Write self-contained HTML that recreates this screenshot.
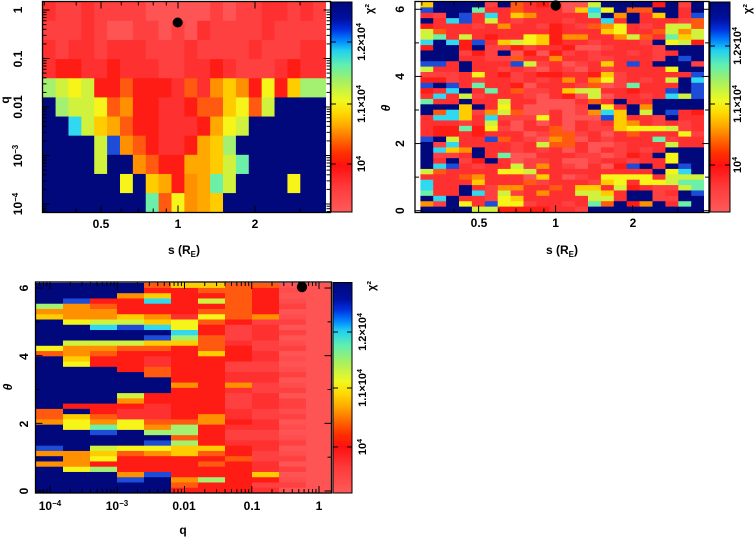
<!DOCTYPE html>
<html><head><meta charset="utf-8">
<style>
html,body{margin:0;padding:0;background:#fff;}
svg{display:block;}
text{font-family:"Liberation Sans",sans-serif;font-weight:bold;font-size:12px;fill:#000;}
.cbl{font-size:11px;}
</style></head><body>
<svg id="s" width="754" height="538" viewBox="0 0 754 538" xmlns="http://www.w3.org/2000/svg">
<defs>
<linearGradient id="cb" x1="0" y1="0" x2="0" y2="1">
<stop offset="0" stop-color="#00087c"/>
<stop offset="0.08" stop-color="#0010a0"/>
<stop offset="0.13" stop-color="#0030e0"/>
<stop offset="0.18" stop-color="#0080ff"/>
<stop offset="0.23" stop-color="#20d0f0"/>
<stop offset="0.30" stop-color="#60f0b0"/>
<stop offset="0.38" stop-color="#a8f060"/>
<stop offset="0.47" stop-color="#f0f820"/>
<stop offset="0.53" stop-color="#ffd800"/>
<stop offset="0.59" stop-color="#ffa800"/>
<stop offset="0.65" stop-color="#ff7000"/>
<stop offset="0.72" stop-color="#ff3000"/>
<stop offset="0.78" stop-color="#ff1010"/>
<stop offset="0.88" stop-color="#ff3a3a"/>
<stop offset="1" stop-color="#ff5a5a"/>
</linearGradient>
<clipPath id="cTL"><rect x="42.7" y="1.7" width="283.3" height="210.6"/></clipPath>
<clipPath id="cTR"><rect x="420.3" y="2" width="283.7" height="210.2"/></clipPath>
<clipPath id="cB"><rect x="36" y="282.7" width="295" height="210.3"/></clipPath>
</defs>
<g id="gTL" clip-path="url(#cTL)"></g>
<g id="gTR" clip-path="url(#cTR)"></g>
<g id="gB" clip-path="url(#cB)"></g>

<!-- colorbars -->
<rect x="331" y="2" width="21" height="210" fill="url(#cb)" stroke="#000" stroke-width="1"/>
<rect x="710" y="2" width="20" height="210" fill="url(#cb)" stroke="#000" stroke-width="1"/>
<rect x="333" y="282.5" width="19" height="210.5" fill="url(#cb)" stroke="#000" stroke-width="1"/>

<!-- frames -->
<rect x="42.5" y="1.5" width="288" height="211" fill="none" stroke="#000" stroke-width="1.3"/>
<rect x="415" y="1.5" width="294" height="211" fill="none" stroke="#000" stroke-width="1.3"/>
<rect x="35.5" y="282" width="296" height="211" fill="none" stroke="#000" stroke-width="1.3"/>

<g id="ticks"></g>

<!-- best-fit dots -->
<circle cx="177.7" cy="22.5" r="5" fill="#000"/>
<circle cx="555.7" cy="5.5" r="5.2" fill="#000"/>
<circle cx="302" cy="287" r="5.2" fill="#000"/>

<!-- Top-left labels -->
<text x="101" y="228" text-anchor="middle">0.5</text>
<text x="178" y="228" text-anchor="middle">1</text>
<text x="255" y="228" text-anchor="middle">2</text>
<text x="184" y="254" text-anchor="middle">s (R<tspan font-size="8" dy="3">E</tspan><tspan dy="-3">)</tspan></text>
<text transform="translate(22,10) rotate(-90)" text-anchor="middle">1</text>
<text transform="translate(22,59) rotate(-90)" text-anchor="middle">0.1</text>
<text transform="translate(22,107) rotate(-90)" text-anchor="middle">0.01</text>
<text transform="translate(22,156) rotate(-90)" text-anchor="middle">10<tspan dy="-4" font-size="8">−3</tspan></text>
<text transform="translate(22,204) rotate(-90)" text-anchor="middle">10<tspan dy="-4" font-size="8">−4</tspan></text>
<text transform="translate(9,100) rotate(-90)" text-anchor="middle">q</text>
<text class="cbl" transform="translate(373,9) rotate(-90)" text-anchor="middle">χ²</text>
<text class="cbl" transform="translate(365,42) rotate(-90)" text-anchor="middle">1.2×10<tspan dy="-4" font-size="7">4</tspan></text>
<text class="cbl" transform="translate(365,104) rotate(-90)" text-anchor="middle">1.1×10<tspan dy="-4" font-size="7">4</tspan></text>
<text class="cbl" transform="translate(365,164) rotate(-90)" text-anchor="middle">10<tspan dy="-4" font-size="7">4</tspan></text>

<!-- Top-right labels -->
<text x="479" y="227" text-anchor="middle">0.5</text>
<text x="555.6" y="227" text-anchor="middle">1</text>
<text x="633" y="227" text-anchor="middle">2</text>
<text x="562" y="254" text-anchor="middle">s (R<tspan font-size="8" dy="3">E</tspan><tspan dy="-3">)</tspan></text>
<text transform="translate(404,9.3) rotate(-90)" text-anchor="middle">6</text>
<text transform="translate(404,76.4) rotate(-90)" text-anchor="middle">4</text>
<text transform="translate(404,143.5) rotate(-90)" text-anchor="middle">2</text>
<text transform="translate(404,210.7) rotate(-90)" text-anchor="middle">0</text>
<text transform="translate(390,108) rotate(-90)" text-anchor="middle" font-style="italic">θ</text>
<text class="cbl" transform="translate(751,9) rotate(-90)" text-anchor="middle">χ²</text>
<text class="cbl" transform="translate(741,46) rotate(-90)" text-anchor="middle">1.2×10<tspan dy="-4" font-size="7">4</tspan></text>
<text class="cbl" transform="translate(741,104) rotate(-90)" text-anchor="middle">1.1×10<tspan dy="-4" font-size="7">4</tspan></text>
<text class="cbl" transform="translate(741,165) rotate(-90)" text-anchor="middle">10<tspan dy="-4" font-size="7">4</tspan></text>

<!-- Bottom labels -->
<text x="50" y="510" text-anchor="middle">10<tspan dy="-4" font-size="8">−4</tspan></text>
<text x="117" y="510" text-anchor="middle">10<tspan dy="-4" font-size="8">−3</tspan></text>
<text x="184" y="510" text-anchor="middle">0.01</text>
<text x="252" y="510" text-anchor="middle">0.1</text>
<text x="319" y="510" text-anchor="middle">1</text>
<text x="183" y="534" text-anchor="middle">q</text>
<text transform="translate(28,288) rotate(-90)" text-anchor="middle">6</text>
<text transform="translate(28,356.5) rotate(-90)" text-anchor="middle">4</text>
<text transform="translate(28,424) rotate(-90)" text-anchor="middle">2</text>
<text transform="translate(28,491) rotate(-90)" text-anchor="middle">0</text>
<text transform="translate(12,387) rotate(-90)" text-anchor="middle" font-style="italic">θ</text>
<text class="cbl" transform="translate(375,286) rotate(-90)" text-anchor="middle">χ²</text>
<text class="cbl" transform="translate(366,332) rotate(-90)" text-anchor="middle">1.2×10<tspan dy="-4" font-size="7">4</tspan></text>
<text class="cbl" transform="translate(366,388) rotate(-90)" text-anchor="middle">1.1×10<tspan dy="-4" font-size="7">4</tspan></text>
<text class="cbl" transform="translate(366,447) rotate(-90)" text-anchor="middle">10<tspan dy="-4" font-size="7">4</tspan></text>
</svg>
<script>
var NS='http://www.w3.org/2000/svg';
function el(tag,attrs,parent){var e=document.createElementNS(NS,tag);for(var k in attrs)e.setAttribute(k,attrs[k]);parent.appendChild(e);return e;}
var C={n:'#00087c',b:'#1c4cd8',c:'#30d8f0',g:'#6cf0a8',k:'#a4f070',l:'#d0f23c',y:'#f6f418',Y:'#ffcc00',a:'#ffa800',o:'#ff9000',O:'#ff5a10',r:'#ff1c14',R:'#ff3030',q:'#ff4040',p:'#ff5454',P:'#ff4c4c'};
function H(i,j){return ((i*7919+j*104729+i*j*31)%13+13)%13;}
function grid(id,data,x0,y0,cw,rh,mod){
 var g=document.getElementById(id);
 for(var i=0;i<data.length;i++){var row=data[i];
  for(var j=0;j<row.length;j++){var ch=row.charAt(j);if(mod)ch=mod(i,j,ch);
   el('rect',{x:(x0+j*cw).toFixed(2),y:(y0+i*rh).toFixed(2),width:(cw+0.4).toFixed(2),height:(rh+0.4).toFixed(2),fill:C[ch]||'#ff3030'},g);}}
}
var TL=[
"RqqRqqqqpppppqpqqRRqRq",
"qqqRqppqqpqpRqqqqRqqqq",
"RqRRqRRRqqqRqqqqRqqqRR",
"RrrRRrRRRqqRRrRqqqRrRR",
"klylrrOrrrRORoYoryrYkk",
"nkllyOorrRRrOOYyOlnnnn",
"nnclYaOrrRRRraylnnnnnn",
"nnnnlboOrRRraYknnnnnnn",
"nnnnlnnoOrraaYlgnnnnnn",
"nnnnnnynYaroaglnnnnynn",
"nnnnnnnngOyoaYnnnnnnnn"];
var TR=[
"YnnnnqnORrqpplnnnnrnqn",
"bnnngRRORRRpYcynOOnnRn",
"RRnbRcRYoRRRRgnonRYnRb",
"nRcbRlRRRRRRRRcRnRRRRO",
"rRRRRRoRRRrRROoyRRRllO",
"lORRRRRRRRrRRRYyRROlol",
"lgRlRrRRyYrooRRolORgYl",
"cncrbRYlyYrRRRRRRRnylr",
"rnnrnRRrRRRrRRRRRRRnnn",
"nnnRrRnRrRrRRRRRRRRRnn",
"nnnRRRRORRoRRRRRRRRnbn",
"bbRnRRRblRRRRRYRbRnnnR",
"lRRnRRRRRRRRRRRRRRRynn",
"RRRRyRrRRrrRRrYRRRRRRb",
"rrRRRRRRRRRoRoyRRRRlnc",
"bnbRgRRrRRRRRORRgRRRnb",
"rRcnRgRORRRYllRRrRRbnb",
"RcRlRRRRRRRrRlRRRRRclb",
"gRRnRRlRRpppRORnRRnnnn",
"nnnYnRyRRppRRnyRnonnnn",
"nOcYRolORRRpRocYnlnbRr",
"RccYRcRRRyRpRRbYRRRnRR",
"RRRRRlRRRRRpRRRYoRRRRR",
"RrrgryRRRROpRRRYyyylRR",
"RrrRrRRRRROORRRRORRRyR",
"bnlRRbORRRoORRRRRRgRRR",
"nRcRRRRRRlOORRRRRRRlRR",
"ncYonRRRRRRRRRRRRRRnnn",
"nRRRnRgRRRRRRRRRrRnynn",
"nRnRrnRRRRRRRRRRRRRynn",
"ncbRRRRlRoRRRRRrbnRnbn",
"lORRRRyylRRRRRRRRRnycn",
"RRROoRRRRYRRRRyyyyRlll",
"cRRRYRRRORRRRRYyRyylgg",
"cRRnRRooRRORYYRlrRRRlg",
"gRRncRlRRoRRllYRnnRRnb",
"ncnRRRyYRRRRRllRnnRRnn",
"oRnyRbyyRRRRRgOnronRgn",
"nnnnllrrrrRRRnnnnnnnnn"];
var B=[
"nnnnOYYOOpp",
"nnnnrrOOrpp",
"nnnoYrrOrpp",
"nbrrcrlOrRp",
"koOrrrrOrRR",
"ooorrrOOrRR",
"YooYoRyOoRR",
"nyllYyOrRRR",
"nncbcyrRRRR",
"nnnnncrRRRR",
"nnnnbkORRRR",
"nlllYYORRRR",
"yooOOrOrRRR",
"OoOrrrYrRRR",
"nYrrRrrrRRR",
"nyrrRrrRRRR",
"nnnrOrrRRRR",
"nnnnOrrRRRR",
"nnnnnrrRRpR",
"nnnnnoroRpp",
"nnnnnrrRRpp",
"nnnlrrrRRRp",
"nnnorrrRRRR",
"nrrrRrrRRqR",
"OnrRRrrRRRR",
"OYORRroRRRR",
"oyoyOOorRRR",
"nygyokrRRRR",
"nnbnkkrRRRR",
"nnnnnOrRRRR",
"nnnnbkrRRRR",
"bnlyyYYrRRR",
"ooYOoYOrRRR",
"noyrrrrORRR",
"oorrrrOrRRR",
"nykrrrrrRRR",
"nnnobrrrYRR",
"nnnbnokrrRR",
"nnnnnOrrRRR",
"nnnnnrrrRRR"];
grid('gTL',TL,42.7,1.7,12.88,19.14);
grid('gTR',TR,420.3,2,12.9,210/39,function(i,j,ch){
 if(ch==='R'){
  var h=H(i,j);
  if(i>=8&&i<=32&&j>=7&&j<=14){ if(h<4)return 'p'; if(h<8)return 'q'; return 'R'; }
  if(h<3)return 'q';
 }
 return ch;});
grid('gB',B,36,282.7,27,210.3/40,function(i,j,ch){
 var h=H(i,j);
 if(j>=9&&(ch==='R'||ch==='p')){ if(h<4)return 'q'; if(h<8)return 'P'; return 'p'; }
 if(j===8&&ch==='R'){ return h<6?'q':'R'; }
 if(j===7&&ch==='R'){ return h<5?'q':'R'; }
 return ch;});

var T=document.getElementById('ticks');
function tk(x1,y1,x2,y2){el('line',{x1:x1.toFixed(2),y1:y1.toFixed(2),x2:x2.toFixed(2),y2:y2.toFixed(2),stroke:'#000','stroke-width':1},T);}
function L(v){return Math.log(v)/Math.LN10;}
[[0.5,7],[1,7],[2,7],[0.3,4],[0.4,4],[0.6,4],[0.7,4],[0.8,4],[0.9,4],[3,4]].forEach(function(a){
 var x=178+255.8*L(a[0]); if(x>43&&x<330){tk(x,212.5,x,212.5-a[1]);tk(x,1.5,x,1.5+a[1]);}
 var x2=555.6+255.8*L(a[0]); if(x2>416&&x2<708){tk(x2,212.5,x2,212.5-a[1]);tk(x2,1.5,x2,1.5+a[1]);}
});
for(var k=-1;k<=4;k++){
 var yd=10+48.5*k;
 if(yd>1.5&&yd<212.5){tk(42.5,yd,49.5,yd);tk(330.5,yd,323.5,yd);}
 for(var m=2;m<=9;m++){var y=10+48.5*(k+1)-48.5*L(m); if(y>2&&y<212){tk(42.5,y,46.5,y);tk(330.5,y,326.5,y);}}
}
for(var t=0;t<=6;t++){var y=210.7-33.57*t;var len=(t%2===0)?7:4;tk(415,y,415+len,y);tk(709,y,709-len,y);}
for(var e=-5;e<=0;e++){
 var xd=50+67.25*(e+4);
 if(xd>35.5&&xd<331.5){tk(xd,493,xd,486);tk(xd,282,xd,289);}
 for(var m=2;m<=9;m++){var x=xd+67.25*L(m); if(x>36&&x<331){tk(x,493,x,489);tk(x,282,x,286);}}
}
for(var t=0;t<=6;t++){var y=491-33.83*t;var len=(t%2===0)?7:4;tk(35.5,y,35.5+len,y);tk(331.5,y,331.5-len,y);}
[42,104,164].forEach(function(y){tk(331,y,336,y);tk(352,y,347,y);});
[46,104,165].forEach(function(y){tk(710,y,715,y);tk(730,y,725,y);});
[332,388,447].forEach(function(y){tk(333,y,338,y);tk(352,y,347,y);});
</script>
</body></html>
